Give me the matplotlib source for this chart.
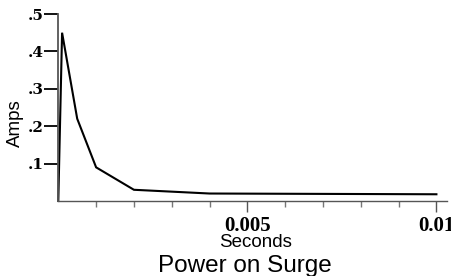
import matplotlib
matplotlib.use("Agg")
import matplotlib.pyplot as plt
from matplotlib.ticker import MultipleLocator, FixedLocator

# Data
seconds = [0.0, 0.0001, 0.0005, 0.001, 0.002, 0.004, 0.01]
amps = [0.0, 0.45, 0.22, 0.09, 0.03, 0.02, 0.018]
y_ticks = [0.1, 0.2, 0.3, 0.4, 0.5]
y_tick_labels = [".1", ".2", ".3", ".4", ".5"]
x_major = [0.005, 0.01]
x_major_labels = ["0.005", "0.01"]
x_minor = [0.001, 0.002, 0.003, 0.004, 0.006, 0.007, 0.008, 0.009]

W, H = 452, 276
fig = plt.figure(figsize=(W / 100, H / 100), dpi=100)
ax = fig.add_axes([58.3 / W, 1 - 201 / H, (447 - 58.3) / W, (201 - 14) / H])

ax.plot(seconds, amps, color="black", lw=1.5, solid_joinstyle="miter", clip_on=False)

ax.set_xlim(0, 0.01028)
ax.set_ylim(0, 0.5)

for s in ["top", "right"]:
    ax.spines[s].set_visible(False)
ax.spines["left"].set_color("#555555")
ax.spines["left"].set_linewidth(1.3)
ax.spines["bottom"].set_color("#555555")
ax.spines["bottom"].set_linewidth(1.0)

ax.yaxis.set_major_locator(FixedLocator(y_ticks))
ax.set_yticklabels(y_tick_labels, fontfamily="DejaVu Serif", fontweight="bold", fontsize=11)
ax.tick_params(axis="y", which="major", direction="out", length=10, width=1.3,
               color="black", pad=0.8)

ax.xaxis.set_major_locator(FixedLocator(x_major))
ax.xaxis.set_minor_locator(FixedLocator(x_minor))
ax.set_xticklabels(x_major_labels, fontfamily="Liberation Serif", fontweight="bold", fontsize=15)
ax.tick_params(axis="x", which="major", direction="out", length=8, width=1.0,
               color="#555555", pad=2.5)
ax.tick_params(axis="x", which="minor", direction="out", length=4.5, width=1.0,
               color="#777777")

fig.text(15 / W, 1 - 123 / H, "Amps", rotation=90, ha="center", va="center",
         fontfamily="Liberation Sans", fontsize=13.5)
fig.text(256 / W, 1 - 247 / H, "Seconds", ha="center", va="baseline",
         fontfamily="Liberation Sans", fontsize=13.5)
fig.text(245 / W, 1 - 272 / H, "Power on Surge", ha="center", va="baseline",
         fontfamily="Liberation Sans", fontsize=17.5)

fig.savefig("out.png", dpi=100, facecolor="white")
